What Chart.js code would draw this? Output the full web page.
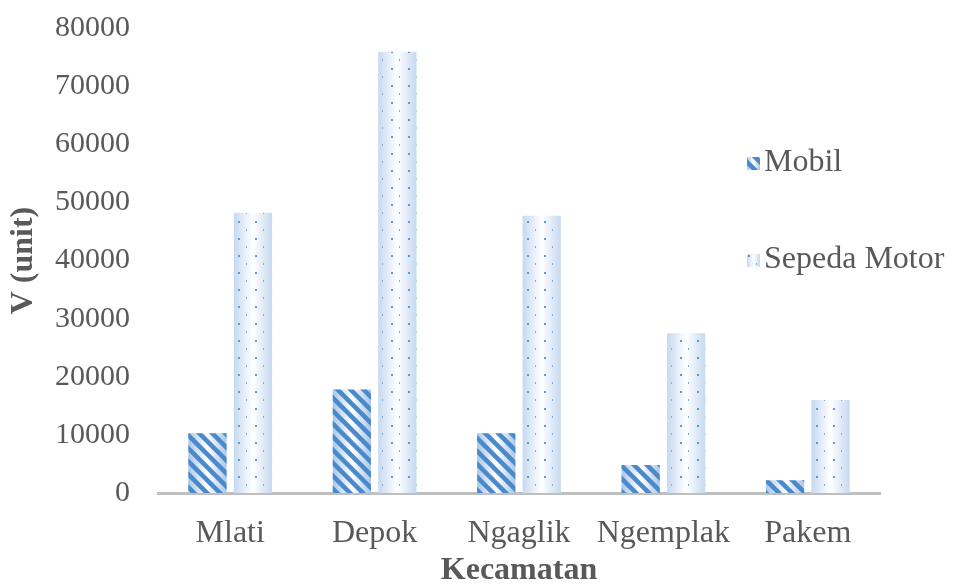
<!DOCTYPE html>
<html>
<head>
<meta charset="utf-8">
<script src="https://cdn.jsdelivr.net/npm/chart.js@4"></script>
<style>
  html, body { margin: 0; padding: 0; background: #ffffff; }
  #wrap { width: 954px; height: 587px; position: relative; }
</style>
</head>
<body>
<div id="wrap"><canvas id="chart" width="954" height="587"></canvas></div>
<script>
// Jumlah kendaraan per kecamatan
const categories = ['Mlati', 'Depok', 'Ngaglik', 'Ngemplak', 'Pakem'];
const mobil = [10300, 17800, 10300, 4800, 2200];
const sepedaMotor = [48200, 75900, 47700, 27500, 16000];
const seriesNames = ['Mobil', 'Sepeda Motor'];
const yTicks = [0, 10000, 20000, 30000, 40000, 50000, 60000, 70000, 80000];

const FONT = '"Liberation Serif", "Times New Roman", serif';
const TEXT = '#595959';
const SIZE = 32;

// Diagonal stripe texture
function stripePattern() {
  const s = 13;
  const c = document.createElement('canvas');
  c.width = s; c.height = s;
  const g = c.getContext('2d');
  g.strokeStyle = '#4a8acb';
  g.lineWidth = 4.5;
  g.lineCap = 'square';
  for (let k = -1; k <= 1; k++) {
    g.beginPath();
    g.moveTo(k * s, 0);
    g.lineTo(k * s + s, s);
    g.stroke();
  }
  return g.createPattern(c, 'repeat');
}

// Small dot texture, offset rows
function dotPattern() {
  const w = 17, h = 17;
  const c = document.createElement('canvas');
  c.width = w; c.height = h;
  const g = c.getContext('2d');
  g.fillStyle = '#5b9bd5';
  g.fillRect(0, 0, 2, 2);
  g.fillStyle = '#7aaee0';
  g.fillRect(8, 8, 1, 2);
  return g.createPattern(c, 'repeat');
}

const patterns = [stripePattern(), dotPattern()];
const edgeColors = ['#a9c6e8', '#c6d9f0'];

function shadeRect(ctx, x0, y0, w, h, edge) {
  const gr = ctx.createLinearGradient(x0, 0, x0 + w, 0);
  gr.addColorStop(0, edge);
  gr.addColorStop(0.5, '#ffffff');
  gr.addColorStop(1, edge);
  ctx.fillStyle = gr;
  ctx.fillRect(x0, y0, w, h);
}

// Soft gradient under each textured bar
const barShading = {
  id: 'barShading',
  beforeDatasetsDraw(chart) {
    const ctx = chart.ctx;
    ctx.save();
    chart.data.datasets.forEach((ds, di) => {
      const meta = chart.getDatasetMeta(di);
      meta.data.forEach(el => {
        const p = el.getProps(['x', 'y', 'base', 'width'], true);
        const x0 = p.x - p.width / 2;
        shadeRect(ctx, x0, p.y, p.width, p.base - p.y, edgeColors[di]);
      });
    });
    ctx.restore();
  }
};

// Legend placed inside the right part of the plot
const sideLegend = {
  id: 'sideLegend',
  afterDraw(chart) {
    const ctx = chart.ctx;
    const items = [
      { label: seriesNames[0], y: 163 },
      { label: seriesNames[1], y: 260 }
    ];
    ctx.save();
    items.forEach((it, i) => {
      const bx = 747, by = it.y - 6, sz = 13;
      shadeRect(ctx, bx, by, sz, sz, edgeColors[i]);
      ctx.fillStyle = patterns[i];
      ctx.fillRect(bx, by, sz, sz);
      ctx.fillStyle = TEXT;
      ctx.font = SIZE + 'px ' + FONT;
      ctx.textAlign = 'left';
      ctx.textBaseline = 'middle';
      ctx.fillText(it.label, 764, it.y);
    });
    ctx.restore();
  }
};

new Chart(document.getElementById('chart'), {
  type: 'bar',
  data: {
    labels: categories,
    datasets: [
      {
        label: seriesNames[0],
        data: mobil,
        backgroundColor: patterns[0],
        borderWidth: 0,
        categoryPercentage: 0.63,
        barPercentage: 0.84
      },
      {
        label: seriesNames[1],
        data: sepedaMotor,
        backgroundColor: patterns[1],
        borderWidth: 0,
        categoryPercentage: 0.63,
        barPercentage: 0.84
      }
    ]
  },
  options: {
    responsive: false,
    animation: false,
    layout: { padding: { top: 28, right: 74, left: 0, bottom: 0 } },
    plugins: {
      legend: { display: false },
      tooltip: { enabled: false }
    },
    scales: {
      x: {
        grid: { display: false, drawTicks: false },
        border: { display: true, color: '#bfbfbf', width: 3 },
        ticks: {
          color: TEXT,
          font: { family: FONT, size: SIZE },
          padding: 21
        },
        title: {
          display: true,
          text: 'Kecamatan',
          color: TEXT,
          font: { family: FONT, size: SIZE, weight: 'bold' },
          padding: { top: 0, bottom: -3 }
        },
        afterFit(scale) {
          scale.height = 94;
          scale.paddingLeft = 0;
          scale.paddingRight = 0;
        }
      },
      y: {
        min: 0,
        max: 80000,
        afterBuildTicks(scale) { scale.ticks = yTicks.map(v => ({ value: v })); },
        grid: { display: false, drawTicks: false },
        border: { display: false },
        ticks: {
          color: TEXT,
          font: { family: FONT, size: 30 },
          padding: 28,
          callback: v => String(v)
        },
        title: {
          display: true,
          text: 'V (unit)',
          color: TEXT,
          font: { family: FONT, size: SIZE, weight: 'bold' },
          padding: { top: 5, bottom: 0 }
        },
        afterFit(scale) {
          scale.width = 158;
          scale.paddingTop = 0;
          scale.paddingBottom = 0;
        }
      }
    }
  },
  plugins: [barShading, sideLegend]
});
</script>
</body>
</html>
